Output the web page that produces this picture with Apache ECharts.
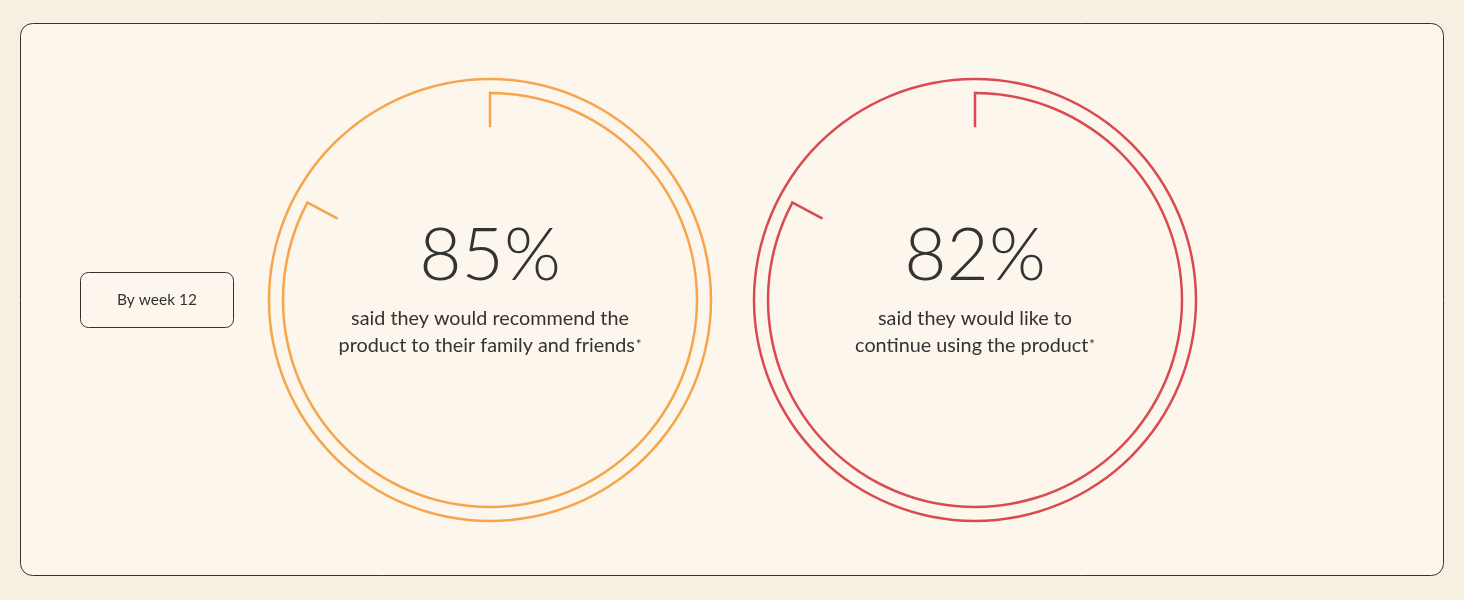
<!DOCTYPE html>
<html>
<head>
<meta charset="utf-8">
<script src="https://cdn.jsdelivr.net/npm/echarts@6/dist/echarts.min.js"></script>
<style>
html,body{margin:0;padding:0;background:#F8EFE3;}
#chart{width:1464px;height:600px;}
</style>
</head>
<body>
<div id="chart"></div>
<script>
// values shown in the centre of each ring
const values = [85, 82];
// extent of the inner arc as drawn in the picture (percent of the circle)
const arcValues = [82.8, 82.8];
const descriptions = [
  'said they would recommend the\nproduct to their family and friends{sup|*}',
  'said they would like to\ncontinue using the product{sup|*}'
];
const periodLabel = 'By week 12';

const colors = ['#F8A44C', '#DA4A52'];
const centers = [[490, 300], [975, 300]];
const textColor = '#333333';
const font = 'Lato, "Noto Sans", sans-serif';

const series = [];
values.forEach((v, i) => {
  const c = colors[i];
  // outer full circle
  series.push({
    type: 'gauge',
    center: centers[i],
    radius: 222.25,
    startAngle: 90,
    endAngle: -270,
    min: 0, max: 100,
    silent: true,
    axisLine: {lineStyle: {width: 2.5, color: [[1, c]]}},
    axisTick: {show: false},
    splitLine: {show: false},
    axisLabel: {show: false},
    pointer: {show: false},
    anchor: {show: false},
    title: {show: false},
    detail: {show: false},
    data: [{value: 0}]
  });
  // inner arc with end ticks
  series.push({
    type: 'gauge',
    center: centers[i],
    radius: 208.25,
    startAngle: 90,
    endAngle: 90 - 360 * arcValues[i] / 100,
    clockwise: true,
    min: 0, max: arcValues[i],
    splitNumber: 1,
    silent: true,
    axisLine: {lineStyle: {width: 2.5, color: [[1, c]]}},
    axisTick: {show: false},
    splitLine: {show: true, length: 35.5, distance: -2.5, lineStyle: {width: 2.5, color: c, cap: 'butt'}},
    axisLabel: {show: false},
    pointer: {show: false},
    anchor: {show: false},
    title: {
      show: true,
      offsetCenter: [0, 32],
      color: textColor,
      fontSize: 19.8,
      lineHeight: 27,
      fontFamily: font,
      rich: {sup: {fontSize: 13, lineHeight: 13, verticalAlign: 'top', color: textColor, fontFamily: font, padding: [6, 0, 0, 1]}}
    },
    detail: {
      show: true,
      offsetCenter: [0, -44],
      formatter: '{value}%',
      color: textColor,
      fontSize: 73,
      fontWeight: 300,
      fontFamily: font
    },
    data: [{value: v, name: descriptions[i]}]
  });
});

const chart = echarts.init(document.getElementById('chart'));
chart.setOption({
  backgroundColor: '#F8EFE3',
  animation: false,
  graphic: [
    {type: 'rect', z: -10, shape: {x: 20.5, y: 23.5, width: 1423, height: 552, r: 12},
     style: {fill: '#FCF6EC', stroke: '#333333', lineWidth: 1}},
    {type: 'rect', z: -5, shape: {x: 80.5, y: 272.5, width: 153, height: 55, r: 8},
     style: {fill: 'transparent', stroke: '#333333', lineWidth: 1}},
    {type: 'text', z: -5, x: 157, y: 300,
     style: {text: periodLabel, fill: textColor, fontSize: 15.5, fontFamily: font, align: 'center', verticalAlign: 'middle'}}
  ],
  series: series
});
</script>
</body>
</html>
